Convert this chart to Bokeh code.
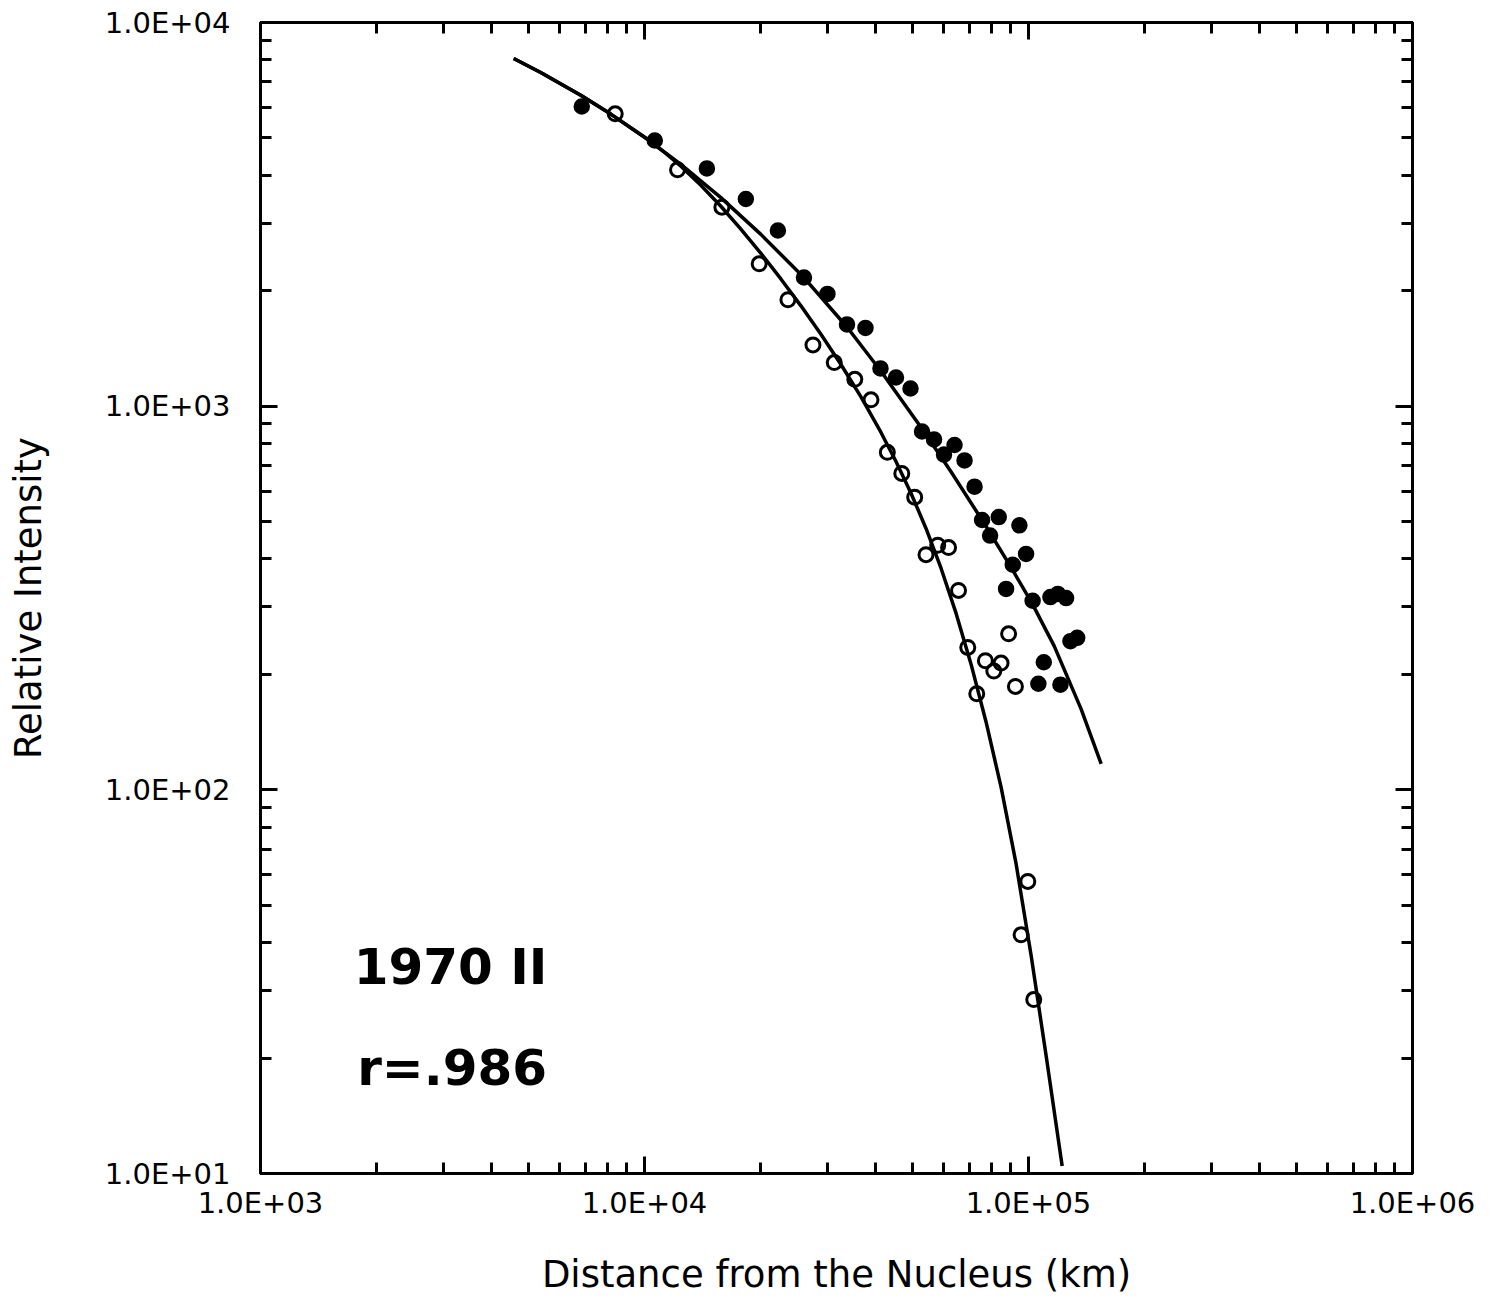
from bokeh.plotting import figure
from bokeh.models import FixedTicker, CustomJSTickFormatter, LogAxis, Label, ColumnDataSource
from bokeh.embed import file_html
from bokeh.resources import INLINE

# ---------------- data ----------------
x_ticks = [1e3, 1e4, 1e5, 1e6]
x_tick_labels = ["1.0E+03", "1.0E+04", "1.0E+05", "1.0E+06"]
y_ticks = [1e1, 1e2, 1e3, 1e4]
y_tick_labels = ["1.0E+01", "1.0E+02", "1.0E+03", "1.0E+04"]
x_minor = [m * d for d in [1e3, 1e4, 1e5] for m in range(2, 10)]
y_minor = [m * d for d in [1e1, 1e2, 1e3] for m in range(2, 10)]

# filled circles (km, relative intensity)
filled_x = [6865, 10637, 14535, 18365, 22253, 26018, 29950, 33677, 37624, 41165,
            45176, 49285, 52810, 56754, 60256, 64180, 68150, 72365, 75700, 83665,
            79430, 94680, 98560, 91000, 87420, 102500, 114040, 119250, 125300, 128600,
            133900, 109600, 106100, 121100]
filled_y = [6040, 4925, 4165, 3467, 2870, 2165, 1961, 1633, 1599, 1254,
            1188, 1112, 859, 819, 748, 792, 722, 617, 505, 514,
            460, 489, 412, 386, 334, 311, 318, 324, 316, 244,
            249, 215, 189, 188]

# open circles
open_x = [8390, 12190, 15905, 19890, 23630, 27460, 31200, 35290, 38890, 42890,
          46780, 50540, 54090, 58020, 61920, 65730, 88760, 69480, 77220, 84830,
          81220, 92460, 73330, 99580, 95650, 103200]
open_y = [5782, 4132, 3301, 2350, 1894, 1444, 1299, 1175, 1039, 758,
          668, 579, 410, 434, 428, 331, 255, 235, 217, 214,
          204, 186, 178, 57.7, 41.9, 28.4]

# fitted curve through the filled circles (traced)
fit_filled_x = [4564, 5367, 6823, 8169, 10182, 12437, 15807, 20096, 26012, 33670,
                41291, 52808, 62847, 77070, 90085, 102180, 116610, 137120, 154600]
fit_filled_y = [8056, 7408, 6461, 5771, 4961, 4268, 3495, 2804, 2164, 1608,
                1233, 873.7, 674.6, 490.8, 379.9, 306.1, 237.2, 162.3, 116.9]

# fitted curve through the open circles (traced)
fit_open_x = [4564, 5367, 6823, 8169, 10182, 11363, 12437, 14019, 15807, 17821,
              20096, 22656, 25547, 28805, 32479, 36621, 41291, 45179, 49434, 54090,
              59186, 64760, 70860, 77536, 84838, 92828, 101570, 111130, 122370]
fit_open_y = [8056, 7408, 6461, 5771, 4961, 4559, 4219, 3765, 3319, 2895,
              2503, 2146, 1826, 1539, 1284, 1057, 854.0, 717.3, 593.1, 480.0,
              378.2, 288.7, 212.6, 150.3, 101.6, 64.2, 37.07, 20.29, 10.46]

# ---------------- figure ----------------
p = figure(width=1490, height=1298, x_axis_type="log", y_axis_type="log",
           x_range=(1e3, 1e6), y_range=(1e1, 1e4),
           output_backend="svg", toolbar_location=None,
           min_border_left=260, min_border_right=78,
           min_border_top=22, min_border_bottom=125)
p.background_fill_color = "white"
p.border_fill_color = "white"
p.grid.visible = False
p.outline_line_color = "black"
p.outline_line_width = 3

fmt_code = """
for (let i = 0; i < vals.length; i++) {
  if (Math.abs(Math.log10(vals[i]) - Math.log10(tick)) < 1e-6) { return labs[i]; }
}
return '';
"""

bottom_axis = p.below[0]
left_axis = p.left[0]
bottom_axis.ticker = FixedTicker(ticks=x_ticks, minor_ticks=x_minor)
bottom_axis.formatter = CustomJSTickFormatter(args=dict(vals=x_ticks, labs=x_tick_labels), code=fmt_code)
left_axis.ticker = FixedTicker(ticks=y_ticks, minor_ticks=y_minor)
left_axis.formatter = CustomJSTickFormatter(args=dict(vals=y_ticks, labs=y_tick_labels), code=fmt_code)

top_axis = LogAxis(ticker=FixedTicker(ticks=x_ticks, minor_ticks=x_minor),
                   formatter=CustomJSTickFormatter(code="return '';"))
right_axis = LogAxis(ticker=FixedTicker(ticks=y_ticks, minor_ticks=y_minor),
                     formatter=CustomJSTickFormatter(code="return '';"))
p.add_layout(top_axis, "above")
p.add_layout(right_axis, "right")


def style(ax):
    ax.axis_line_color = "black"
    ax.axis_line_width = 3
    ax.major_tick_in = 17
    ax.major_tick_out = 0
    ax.minor_tick_in = 11
    ax.minor_tick_out = 0
    ax.major_tick_line_width = 3
    ax.minor_tick_line_width = 3
    ax.major_tick_line_color = "black"
    ax.minor_tick_line_color = "black"
    ax.major_label_text_font = "DejaVu Sans"
    ax.major_label_text_font_size = "29px"
    ax.major_label_text_color = "black"


for ax in [bottom_axis, left_axis, top_axis, right_axis]:
    style(ax)

bottom_axis.major_label_standoff = 12
left_axis.major_label_standoff = 30
bottom_axis.axis_label = "Distance from the Nucleus (km)"
left_axis.axis_label = "Relative Intensity"
for ax in [bottom_axis, left_axis]:
    ax.axis_label_text_font = "DejaVu Sans"
    ax.axis_label_text_font_size = "37px"
    ax.axis_label_text_font_style = "normal"
    ax.axis_label_text_color = "black"
bottom_axis.axis_label_standoff = 30
left_axis.axis_label_standoff = 52

# ---------------- marks ----------------
src_fit_f = ColumnDataSource(dict(x=fit_filled_x, y=fit_filled_y))
src_fit_o = ColumnDataSource(dict(x=fit_open_x, y=fit_open_y))
p.line("x", "y", source=src_fit_f, line_color="black", line_width=3.5, line_join="round")
p.line("x", "y", source=src_fit_o, line_color="black", line_width=3.5, line_join="round")

src_f = ColumnDataSource(dict(x=filled_x, y=filled_y))
src_o = ColumnDataSource(dict(x=open_x, y=open_y))
p.scatter("x", "y", source=src_f, marker="circle", size=14,
          fill_color="black", line_color="black", line_width=2.5)
p.scatter("x", "y", source=src_o, marker="circle", size=14,
          fill_color=None, line_color="black", line_width=3)

p.add_layout(Label(x=1748, y=34.43, text="1970 II", text_font="DejaVu Sans",
                   text_font_style="bold", text_font_size="50px",
                   text_baseline="alphabetic", text_align="left", text_color="black"))
p.add_layout(Label(x=1785, y=18.84, text="r=.986", text_font="DejaVu Sans",
                   text_font_style="bold", text_font_size="50px",
                   text_baseline="alphabetic", text_align="left", text_color="black"))

open("out.html", "w").write(file_html(p, INLINE))
